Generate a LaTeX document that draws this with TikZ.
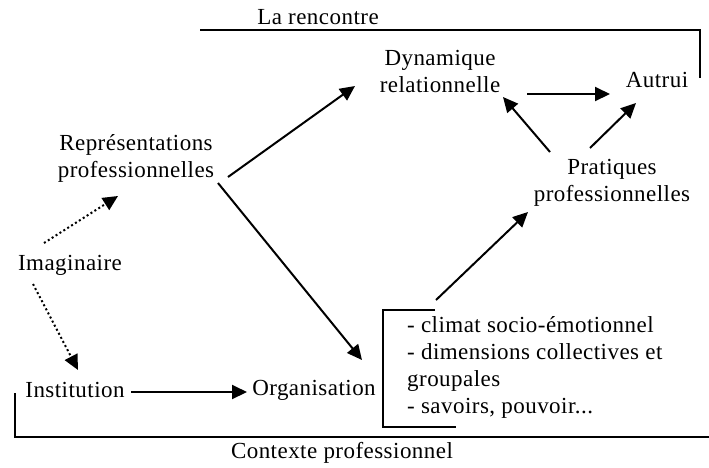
\documentclass[tikz,border=0pt]{standalone}
\usepackage{fontspec}
\setmainfont{Liberation Serif}[LetterSpace=2]
\usetikzlibrary{arrows.meta,calc}
\begin{document}
\begin{tikzpicture}[x=1pt,y=-1pt,
  lbl/.style={font=\fontsize{23}{27}\selectfont, inner sep=0pt, align=center},
  arr/.style={line width=2pt, -{Triangle[length=15pt,width=14pt]}},
  dotarr/.style={line width=2pt, dash pattern=on 2pt off 2.6pt, -{Triangle[length=15pt,width=14pt]}},
  brk/.style={line width=1.8pt}]
\useasboundingbox (0,0) rectangle (709,467);
\node[lbl] (renc) at (318,17) {La rencontre};
\node[lbl] (dyn) at (440,71) {Dynamique\\relationnelle};
\node[lbl] (autrui) at (657,80) {Autrui};
\node[lbl] (rep) at (136,158) {Représentations\\professionnelles};
\node[lbl] (prat) at (612,183) {Pratiques\\professionnelles};
\node[lbl] (imag) at (70,265) {Imaginaire};
\node[lbl] (inst) at (75,390) {Institution};
\node[lbl] (org) at (314,390) {Organisation};
\node[lbl, anchor=west, align=left] (list) at (407,367) {- climat socio-émotionnel\\- dimensions collectives et\\groupales\\- savoirs, pouvoir...};
\node[lbl] (ctx) at (342,453) {Contexte professionnel};
% brackets
\coordinate (btl) at (383,310);
\draw[brk] (200,30) -- (700,30) -- (700,78);
\draw[brk] (15,393) -- (15,437) -- (709,437);
\draw[brk] ($(btl)+(52,0)$) -- (btl) -- ($(btl)+(0,117)$) -- ($(btl)+(73,117)$);
% arrows
\draw[arr] ($(rep)+(92,19)$) -- ($(dyn)+(-85,15)$);
\draw[arr] ($(rep)+(82,25)$) -- ($(org)+(48,-30)$);
\draw[arr] ($(dyn)+(87,23)$) -- ($(autrui)+(-47,14)$);
\draw[arr] ($(prat)+(-62,-31)$) -- ($(dyn)+(63,26)$);
\draw[arr] ($(prat)+(-22,-35)$) -- ($(autrui)+(-21,23)$);
\draw[dotarr] ($(imag)+(-26,-22)$) -- ($(rep)+(-18,38)$);
\draw[dotarr] ($(imag)+(-37,19)$) -- ($(inst)+(3,-20)$);
\draw[arr] ($(inst)+(56,2)$) -- ($(org)+(-67,2)$);
\draw[arr] ($(btl)+(53,-10)$) -- ($(prat)+(-84,29)$);
\end{tikzpicture}
\end{document}
